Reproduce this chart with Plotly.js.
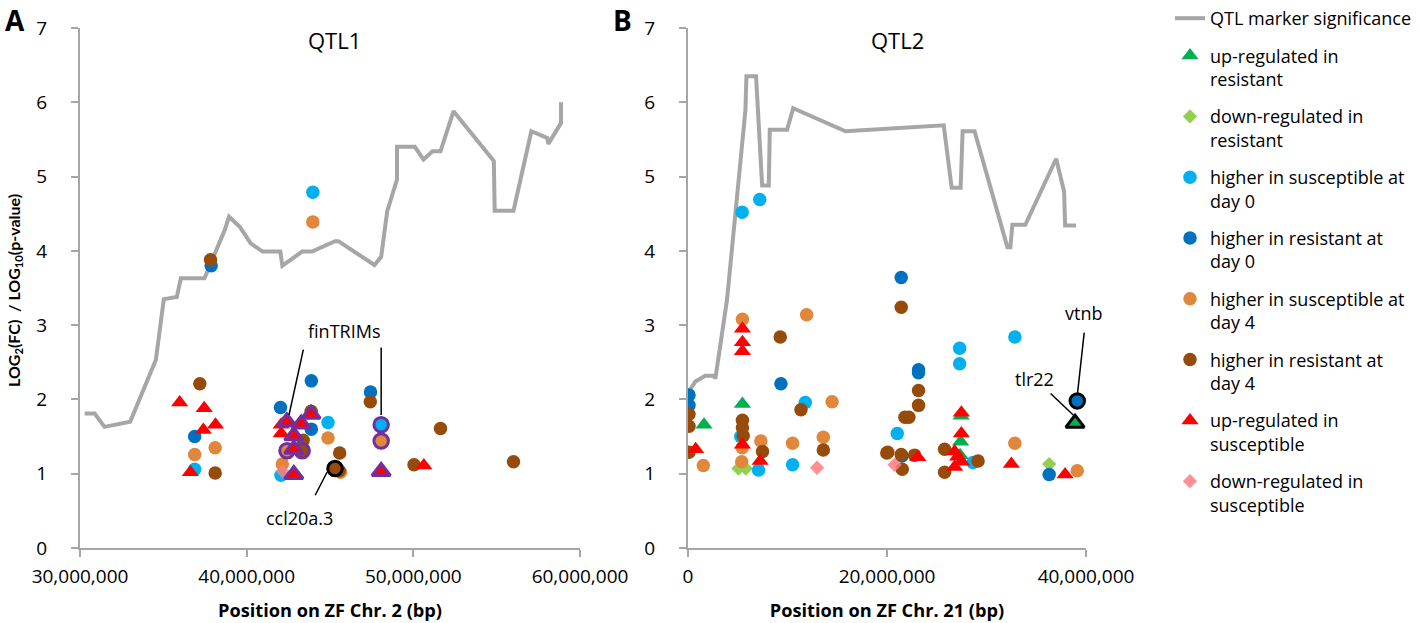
<!DOCTYPE html>
<html>
<head>
<meta charset="utf-8">
<script src="https://cdn.plot.ly/plotly-3.0.1.min.js"></script>
<style>html,body{margin:0;padding:0;background:#fff;}#chart{width:1420px;height:623px;}</style>
</head>
<body>
<div id="chart"></div>
<script>
// ---------- DATA ----------
// QTL marker significance curves (position bp, -log10 p)
const qtl1X = [30.28e6,30.88e6,31.47e6,33.01e6,34.55e6,35.03e6,35.81e6,36.05e6,37.47e6,38.70e6,38.94e6,39.60e6,40.24e6,40.96e6,42.02e6,42.14e6,43.33e6,43.92e6,45.30e6,45.50e6,47.67e6,48.07e6,48.43e6,49.02e6,49.02e6,50.09e6,50.61e6,51.15e6,51.63e6,52.41e6,54.83e6,54.88e6,56.01e6,57.08e6,58.03e6,58.10e6,58.86e6,58.86e6];
const qtl1Y = [1.81,1.81,1.63,1.70,2.53,3.35,3.38,3.63,3.63,4.29,4.46,4.32,4.10,3.99,3.99,3.80,3.99,3.99,4.13,4.13,3.81,3.92,4.53,4.96,5.40,5.40,5.23,5.34,5.34,5.88,5.21,4.54,4.54,5.61,5.52,5.44,5.72,6.00];
const qtl2X = [0.05e6,0.74e6,1.74e6,2.58e6,2.75e6,3.92e6,5.77e6,5.87e6,6.84e6,7.45e6,8.12e6,8.22e6,9.96e6,10.57e6,15.83e6,25.70e6,26.50e6,27.40e6,27.60e6,28.80e6,32.10e6,32.40e6,32.60e6,33.90e6,37.00e6,37.80e6,37.90e6,39.00e6];
const qtl2Y = [2.10,2.24,2.32,2.32,2.28,3.34,5.89,6.35,6.35,4.88,4.88,5.63,5.63,5.92,5.61,5.69,4.85,4.85,5.61,5.61,4.05,4.05,4.35,4.35,5.24,4.80,4.34,4.34];

// Category names (legend order)
const categoryNames = [
  'up-regulated in<br>resistant',
  'down-regulated in<br>resistant',
  'higher in susceptible at<br>day 0',
  'higher in resistant at<br>day 0',
  'higher in susceptible at<br>day 4',
  'higher in resistant at<br>day 4',
  'up-regulated in<br>susceptible',
  'down-regulated in<br>susceptible'
];
const qtlLineName = 'QTL marker significance';

// QTL1 (Chr. 2) genes: [position bp, log2 FC]
const chr2UpRes = [];
const chr2DownRes = [];
const chr2SuscD0 = [[36.88e6,1.06],[43.97e6,4.79],[42.06e6,0.98],[44.88e6,1.69]];
const chr2ResD0 = [[36.88e6,1.50],[37.87e6,3.80],[42.03e6,1.89],[43.88e6,2.25],[43.88e6,1.60],[47.43e6,2.10]];
const chr2SuscD4 = [[36.88e6,1.26],[38.11e6,1.35],[43.97e6,4.39],[42.14e6,1.13],[44.88e6,1.48],[45.63e6,1.02]];
const chr2ResD4 = [[37.19e6,2.21],[38.11e6,1.01],[37.83e6,3.88],[43.87e6,1.84],[43.39e6,1.45],[45.58e6,1.28],[45.55e6,1.04],[47.42e6,1.97],[50.04e6,1.12],[51.63e6,1.61],[56.01e6,1.16]];
const chr2UpSusc = [[35.98e6,1.96],[37.45e6,1.88],[37.40e6,1.59],[38.13e6,1.66],[36.62e6,1.02],[42.07e6,1.66],[42.07e6,1.54],[50.63e6,1.11]];
const chr2DownSusc = [[42.17e6,1.03]];
// finTRIM genes (ringed), and ccl20a.3
const chr2TrimUpSusc = [[42.41e6,1.70],[43.27e6,1.67],[42.83e6,1.51],[43.86e6,1.80],[42.83e6,1.33],[42.83e6,0.99],[48.07e6,1.03]];
const chr2TrimSuscD0 = [[48.07e6,1.66]];
const chr2TrimSuscD4 = [[42.42e6,1.31],[48.07e6,1.44]];
const chr2TrimResD4 = [[43.33e6,1.31]];
const chr2Ccl20 = [[45.30e6,1.07]];

// QTL2 (Chr. 21) genes
const chr21UpRes = [[1.61e6,1.66],[5.47e6,1.94],[27.40e6,1.43],[27.35e6,1.25],[27.45e6,1.78]];
const chr21DownRes = [[5.07e6,1.07],[5.81e6,1.07],[36.30e6,1.13]];
const chr21SuscD0 = [[5.44e6,4.52],[7.21e6,4.69],[5.30e6,1.50],[7.09e6,1.05],[10.51e6,1.12],[11.79e6,1.96],[21.03e6,1.54],[27.30e6,2.69],[27.30e6,2.48],[28.65e6,1.15],[32.85e6,2.84]];
const chr21ResD0 = [[0.10e6,2.06],[0.10e6,1.92],[9.34e6,2.21],[21.43e6,3.64],[23.17e6,2.40],[23.17e6,2.36],[21.50e6,1.24],[36.30e6,0.99]];
const chr21SuscD4 = [[1.54e6,1.11],[5.47e6,3.08],[5.45e6,1.35],[5.40e6,1.16],[7.32e6,1.44],[10.51e6,1.41],[11.92e6,3.14],[13.60e6,1.49],[14.48e6,1.97],[32.85e6,1.41],[39.12e6,1.04]];
const chr21ResD4 = [[0.10e6,1.80],[0.10e6,1.64],[0.10e6,1.29],[5.47e6,1.72],[5.47e6,1.62],[5.55e6,1.51],[7.49e6,1.30],[9.27e6,2.84],[11.35e6,1.86],[13.60e6,1.32],[19.98e6,1.28],[20.08e6,1.29],[21.43e6,3.24],[21.43e6,1.26],[22.77e6,1.25],[21.53e6,1.06],[21.80e6,1.76],[22.20e6,1.76],[23.17e6,2.12],[23.17e6,1.92],[25.79e6,1.33],[25.79e6,1.02],[29.15e6,1.17]];
const chr21UpSusc = [[5.47e6,2.95],[5.47e6,2.77],[5.47e6,2.65],[0.77e6,1.33],[5.47e6,1.39],[7.25e6,1.17],[23.10e6,1.22],[27.47e6,1.82],[27.47e6,1.54],[26.80e6,1.30],[27.10e6,1.23],[27.50e6,1.16],[26.80e6,1.09],[32.50e6,1.13],[37.90e6,0.99]];
const chr21DownSusc = [[12.97e6,1.08],[20.76e6,1.12]];
// highlighted genes
const chr21Tlr22 = [[38.90e6,1.68]];
const chr21Vtnb = [[39.12e6,1.98]];

// Callout labels
const calloutTexts = ['finTRIMs','ccl20a.3','tlr22','vtnb'];

// ---------- STYLE ----------
const FONT = '"Open Sans", sans-serif';
const FONT2 = 'Lato, "Open Sans", sans-serif';
const GRAY = '#A6A6A6';
const colors = ['#00B050','#92D050','#00B0F0','#0070C0','#E0873C','#964B0A','#FF0000','#FF7C80'];
const symbols = ['triangle-up','diamond','circle','circle','circle','circle','triangle-up','diamond'];
const sizes = [15,11,13.5,13.5,13.5,13.5,15,11];
const PURPLE = '#7030A0';

const chr2Sets = [chr2UpRes,chr2DownRes,chr2SuscD0,chr2ResD0,chr2SuscD4,chr2ResD4,chr2UpSusc,chr2DownSusc];
const chr21Sets = [chr21UpRes,chr21DownRes,chr21SuscD0,chr21ResD0,chr21SuscD4,chr21ResD4,chr21UpSusc,chr21DownSusc];

const xs = a => a.map(p => p[0]);
const ys = a => a.map(p => p[1]);

const traces = [];
traces.push({x: qtl1X, y: qtl1Y, xaxis:'x', yaxis:'y', mode:'lines', line:{color:GRAY,width:4},
  name: qtlLineName, legendgroup:'qtl', showlegend:false, hoverinfo:'skip'});
traces.push({x: qtl2X, y: qtl2Y, xaxis:'x2', yaxis:'y2', mode:'lines', line:{color:GRAY,width:4},
  name: qtlLineName, legendgroup:'qtl', showlegend:true, legendrank:1, hoverinfo:'skip'});

categoryNames.forEach((nm, k) => {
  const mk = {color: colors[k], symbol: symbols[k], size: sizes[k], line:{width:0}};
  const op = k === 7 ? 0.85 : 1;
  if (chr2Sets[k].length) {
    traces.push({x: xs(chr2Sets[k]), y: ys(chr2Sets[k]), xaxis:'x', yaxis:'y', mode:'markers', marker: mk, opacity: op,
      name: nm, legendgroup:'g'+k, showlegend:false});
  }
  traces.push({x: xs(chr21Sets[k]), y: ys(chr21Sets[k]), xaxis:'x2', yaxis:'y2', mode:'markers', marker: mk, opacity: op,
    name: nm, legendgroup:'g'+k, showlegend:true, legendrank: k+2});
});

function ringed(arr, k, ringColor, ax, ay) {
  return {x: xs(arr), y: ys(arr), xaxis: ax, yaxis: ay, mode:'markers',
    marker:{color: colors[k], symbol: symbols[k], size: sizes[k] + 1, line:{color: ringColor, width: 3}},
    legendgroup:'g'+k, showlegend:false, name: categoryNames[k]};
}
traces.push(ringed(chr2TrimSuscD0, 2, PURPLE, 'x','y'));
traces.push(ringed(chr2TrimSuscD4, 4, PURPLE, 'x','y'));
traces.push(ringed(chr2TrimResD4, 5, PURPLE, 'x','y'));
traces.push(ringed(chr2TrimUpSusc, 6, PURPLE, 'x','y'));
traces.push(ringed(chr2Ccl20, 5, '#000000', 'x','y'));
traces.push(ringed(chr21Tlr22, 0, '#000000', 'x2','y2'));
traces.push(ringed(chr21Vtnb, 3, '#000000', 'x2','y2'));

const W = 1420, H = 623;
const yDom = [(H-548)/H, (H-28)/H];
const baseX = {
  showgrid:false, zeroline:false, showline:true, linecolor:GRAY, linewidth:2,
  ticks:'outside', ticklen:7, tickcolor:GRAY, tickwidth:2,
  tickfont:{family:FONT, size:19, color:'#000'}, tickformat:',d', ticklabelstandoff:3
};
const baseY = {
  showgrid:false, zeroline:false, showline:true, linecolor:GRAY, linewidth:2,
  ticks:'outside', ticklen:7, tickcolor:GRAY, tickwidth:2, range:[0,7], dtick:1, tick0:0,
  tickfont:{family:FONT, size:19, color:'#000'}, ticklabelstandoff:20
};
const titleFont = {family:FONT, size:18.2, color:'#000', weight:'bold'};

const lineShape = (ax, ay, x0, y0, x1, y1) => ({type:'line', xref:ax, yref:ay, x0, y0, x1, y1, line:{color:'#000', width:1.5}});
const paperText = (text, px, py, font, extra) => Object.assign({text, xref:'paper', yref:'paper', x:px/W, y:1-py/H,
  xanchor:'center', yanchor:'middle', showarrow:false, font}, extra || {});
const dataText = (text, ax, ay, x, y) => ({text, xref:ax, yref:ay, x, y, xanchor:'center', yanchor:'middle',
  showarrow:false, font:{family:FONT, size:18, color:'#000'}});

const layout = {
  width: W, height: H,
  margin:{l:0, r:0, t:0, b:0},
  paper_bgcolor:'#fff', plot_bgcolor:'#fff',
  font:{family:FONT, color:'#000'},
  xaxis: Object.assign({}, baseX, {domain:[80/W, 580/W], range:[30e6,60e6], tick0:30e6, dtick:10e6, anchor:'y',
    title:{text:'<b>Position on ZF Chr. 2 (bp)</b>', font:titleFont, standoff:16}}),
  yaxis: Object.assign({}, baseY, {domain:yDom, anchor:'x'}),
  xaxis2: Object.assign({}, baseX, {domain:[688/W, 1086/W], range:[0,40e6], tick0:0, dtick:20e6, anchor:'y2',
    title:{text:'<b>Position on ZF Chr. 21 (bp)</b>', font:titleFont, standoff:16}}),
  yaxis2: Object.assign({}, baseY, {domain:yDom, anchor:'x2'}),
  showlegend:true,
  legend:{x:1170/W, y:1, xanchor:'left', yanchor:'top', font:{family:FONT, size:18, color:'#000'},
    traceorder:'grouped', tracegroupgap:11, valign:'top', bgcolor:'rgba(0,0,0,0)'},
  shapes:[
    lineShape('x','y', 43.40e6, 2.67, 42.54e6, 1.79),
    lineShape('x','y', 48.07e6, 2.70, 48.07e6, 1.79),
    lineShape('x','y', 44.11e6, 0.71, 44.82e6, 1.02),
    lineShape('x2','y2', 36.44e6, 2.08, 38.72e6, 1.79),
    lineShape('x2','y2', 39.82e6, 2.90, 39.13e6, 2.06)
  ],
  annotations:[
    paperText('<b>A</b>', 15, 20, {family:FONT, size:28, color:'#000'}, {borderpad:0}),
    paperText('<b>B</b>', 622, 20, {family:FONT, size:28, color:'#000'}, {borderpad:0}),
    paperText('QTL1', 334, 40, {family:FONT, size:22, color:'#000'}),
    paperText('QTL2', 897, 40, {family:FONT, size:22, color:'#000'}),
    paperText('<b>LOG<sub>2</sub>(FC)  / LOG<sub>10</sub>(p-value)</b>', 14, 291, {family:FONT2, size:16, color:'#000'}, {textangle:-90}),
    dataText(calloutTexts[0], 'x', 'y', 45.82e6, 2.92),
    dataText(calloutTexts[1], 'x', 'y', 43.14e6, 0.405),
    dataText(calloutTexts[2], 'x2', 'y2', 34.8e6, 2.28),
    dataText(calloutTexts[3], 'x2', 'y2', 39.73e6, 3.17)
  ]
};

Plotly.newPlot('chart', traces, layout, {displayModeBar:false, staticPlot:true});
</script>
</body>
</html>
